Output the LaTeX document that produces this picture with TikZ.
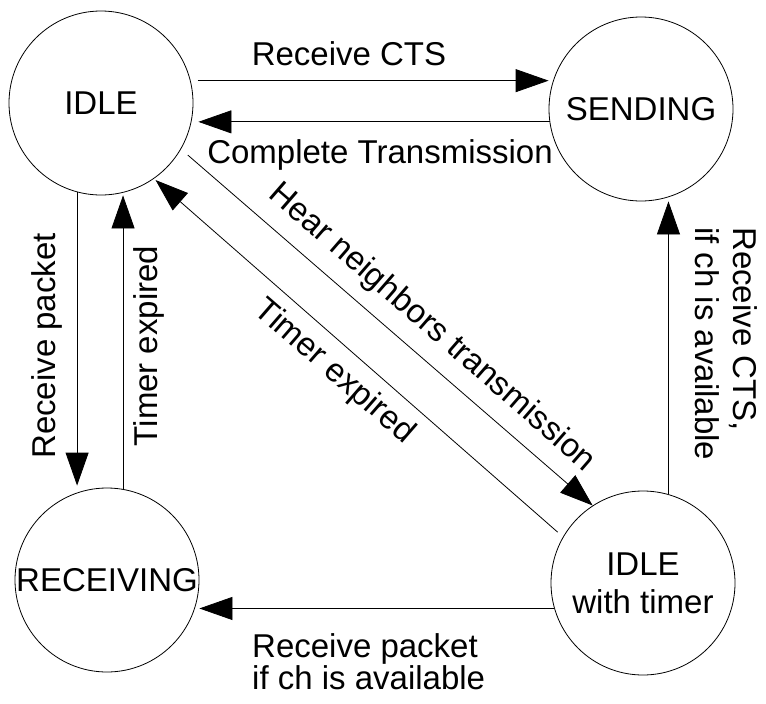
\documentclass[tikz,border=0pt]{standalone}
\usepackage{fontspec}
\setmainfont{Liberation Sans}
\usepackage{tikz}
\usetikzlibrary{arrows.meta}
\usetikzlibrary{calc}

\tikzset{
  state/.style={circle,draw,line width=0.8pt,minimum size=184pt,inner sep=0pt,align=center},
  trans/.style={line width=0.8pt,-{Triangle[length=33pt,width=23pt]}},
  lbl/.style={inner sep=0pt}
}

\begin{document}
\begin{tikzpicture}[x=1pt,y=1pt,yscale=-1,xscale=1,font=\fontsize{33}{37}\selectfont]
      \useasboundingbox (0,0) rectangle (766,704);
      % states
      \node (idle) at (101,103) [state] {IDLE};
      \node (send) at (641,109) [state] {SENDING};
      \node (recv) at (107,580) [state] {RECEIVING};
      \node (wait) at (643,583) [state] {IDLE\\[1pt]with timer};
      % transitions
      \draw [trans,shorten <=7pt]  (idle.14.5) -- (idle.14.5 -| send.west);
      \draw [trans,shorten >=5pt]  (send.188) -- (send.188 -| idle.east);
      \draw [trans,shorten <=9pt]  (idle.-30) -- (wait.123);
      \draw [trans,shorten <=7pt,shorten >=2pt]  (wait.150) -- (idle.-55);
      \draw [trans,shorten >=2pt]  (idle.-105) -- (idle.-105 |- recv.north);
      \draw [trans]  (recv.80) -- (recv.80 |- idle.south);
      \draw [trans]  (wait.74) -- (wait.74 |- send.south);
      \draw [trans]  (wait.-164) -- (wait.-164 -| recv.east);
      % labels
      \node (lcts)   at (349,65)  [lbl,anchor=base]  {Receive CTS};
      \node (ldone)  at (380,163) [lbl,anchor=base]  {Complete Transmission};
      \node (lhear)  at (432,328) [lbl,rotate=-41]   {Hear neighbors transmission};
      \node (lexpd)  at (334,372) [lbl,rotate=-41]   {Timer expired};
      \node (lpkt)   at (55,346)  [lbl,anchor=base,rotate=90] {Receive packet};
      \node (lexpv)  at (157,346) [lbl,anchor=base,rotate=90] {Timer expired};
      \node (lctsch) at (758,227) [lbl,anchor=north west,rotate=-90,align=left] {Receive CTS,\\[1pt]if ch is available};
      \node (lpktch) at (252,633) [lbl,anchor=north west,align=left] {Receive packet\\[-5pt]if ch is available};
    \end{tikzpicture}
\end{document}
